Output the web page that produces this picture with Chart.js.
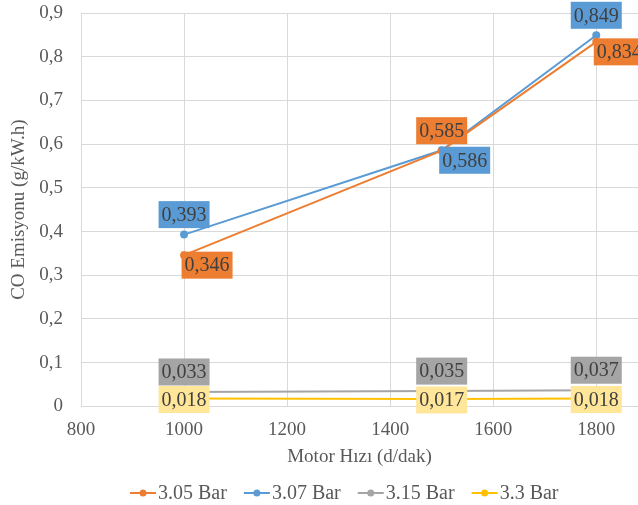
<!DOCTYPE html>
<html>
<head>
<meta charset="utf-8">
<script src="https://cdn.jsdelivr.net/npm/chart.js@4/dist/chart.umd.min.js"></script>
<style>
  html, body { margin: 0; padding: 0; background: #ffffff; }
  #wrap { width: 638px; height: 505px; position: relative; }
</style>
</head>
<body>
<div id="wrap"><canvas id="c"></canvas></div>
<script>
// Engine speed (rpm) on the x axis
const speeds = [1000, 1500, 1800];

// CO emission (g/kW.h) per injection pressure
const seriesNames = ['3.05 Bar', '3.07 Bar', '3.15 Bar', '3.3 Bar'];
const co305 = [0.346, 0.585, 0.834];
const co307 = [0.393, 0.586, 0.849];
const co315 = [0.033, 0.035, 0.037];
const co330 = [0.018, 0.017, 0.018];

const xTitle = 'Motor Hızı (d/dak)';
const yTitle = 'CO Emisyonu (g/kW.h)';

const lineColors = ['#ED7D31', '#5B9BD5', '#A5A5A5', '#FFC000'];
const boxColors  = ['#ED7D31', '#5B9BD5', '#A5A5A5', '#FFE699'];
// where each value box sits relative to its point
const labelPlacement = [
  ['belowRight', 'above', 'belowRight'],
  ['above', 'belowRight', 'above'],
  ['above', 'above', 'above'],
  ['center', 'center', 'center']
];
const placementOffset = {
  above: [0, -20],
  belowRight: [23, 10],
  center: [0, 1]
};

const FONT = "'Liberation Serif', 'Times New Roman', serif";
const TEXT_GREY = '#595959';
const GRID = '#D9D9D9';
const fmt = v => String(v).replace('.', ',');

const allValues = [co305, co307, co315, co330];
const datasets = allValues.map((vals, i) => ({
  label: seriesNames[i],
  data: speeds.map((s, j) => ({ x: s, y: vals[j] })),
  borderColor: lineColors[i],
  backgroundColor: lineColors[i],
  borderWidth: 2,
  pointRadius: 3,
  pointHoverRadius: 3,
  tension: 0
}));

// value boxes next to each point
const valueBoxes = {
  id: 'valueBoxes',
  afterDatasetsDraw(chart) {
    const ctx = chart.ctx;
    ctx.save();
    ctx.font = '20px ' + FONT;
    ctx.textAlign = 'center';
    ctx.textBaseline = 'middle';
    chart.data.datasets.forEach((ds, i) => {
      const meta = chart.getDatasetMeta(i);
      meta.data.forEach((pt, j) => {
        const off = placementOffset[labelPlacement[i][j]];
        const text = fmt(allValues[i][j]);
        const w = ctx.measureText(text).width + 6;
        const h = 27;
        const cx = pt.x + off[0];
        const cy = pt.y + off[1];
        ctx.fillStyle = boxColors[i];
        ctx.fillRect(cx - w / 2, cy - h / 2, w, h);
        ctx.fillStyle = '#404040';
        ctx.fillText(text, cx, cy + 1);
      });
    });
    ctx.restore();
  }
};

// legend row under the axis title: line-and-dot marker followed by the name
const seriesLegend = {
  id: 'seriesLegend',
  afterDraw(chart, args, opts) {
    const ctx = chart.ctx;
    ctx.save();
    ctx.font = '20px ' + FONT;
    ctx.textBaseline = 'middle';
    ctx.textAlign = 'left';
    let x = opts.left;
    const y = opts.y;
    chart.data.datasets.forEach((ds, i) => {
      ctx.strokeStyle = lineColors[i];
      ctx.fillStyle = lineColors[i];
      ctx.lineWidth = 2;
      ctx.beginPath();
      ctx.moveTo(x, y);
      ctx.lineTo(x + opts.marker, y);
      ctx.stroke();
      ctx.beginPath();
      ctx.arc(x + opts.marker / 2, y, 3.5, 0, Math.PI * 2);
      ctx.fill();
      ctx.fillStyle = TEXT_GREY;
      const tx = x + opts.marker + opts.gap;
      ctx.fillText(ds.label, tx, y + 1);
      x = tx + ctx.measureText(ds.label).width + opts.spacing;
    });
    ctx.restore();
  }
};

new Chart(document.getElementById('c'), {
  type: 'line',
  data: { datasets },
  plugins: [valueBoxes, seriesLegend],
  options: {
    responsive: true,
    maintainAspectRatio: false,
    animation: false,
    layout: { autoPadding: false, padding: { top: 13, right: 0, left: 0, bottom: 37 } },
    plugins: {
      tooltip: { enabled: false },
      legend: { display: false },
      seriesLegend: { left: 130, y: 493, marker: 26, gap: 2, spacing: 17 }
    },
    scales: {
      x: {
        type: 'linear',
        min: 800,
        max: 1881,
        border: { display: true, color: GRID },
        grid: { color: GRID, drawTicks: true, tickLength: 10, tickColor: 'rgba(0,0,0,0)' },
        ticks: {
          stepSize: 200,
          includeBounds: false,
          padding: 2,
          color: TEXT_GREY,
          font: { family: FONT, size: 19 },
          callback: v => String(v)
        },
        title: {
          display: true,
          text: xTitle,
          color: TEXT_GREY,
          font: { family: FONT, size: 19 },
          padding: { top: 2, bottom: 0 }
        }
      },
      y: {
        min: 0,
        max: 0.9,
        border: { display: false },
        grid: { color: GRID, drawTicks: true, tickLength: 17, tickColor: 'rgba(0,0,0,0)' },
        ticks: {
          stepSize: 0.1,
          padding: 1,
          color: TEXT_GREY,
          font: { family: FONT, size: 19 },
          callback: v => fmt(Math.round(v * 10) / 10)
        },
        title: {
          display: true,
          text: yTitle,
          color: TEXT_GREY,
          font: { family: FONT, size: 19 },
          padding: { top: 8, bottom: 0 }
        },
        afterFit(scale) { scale.width = 81; }
      }
    }
  }
});
</script>
</body>
</html>
